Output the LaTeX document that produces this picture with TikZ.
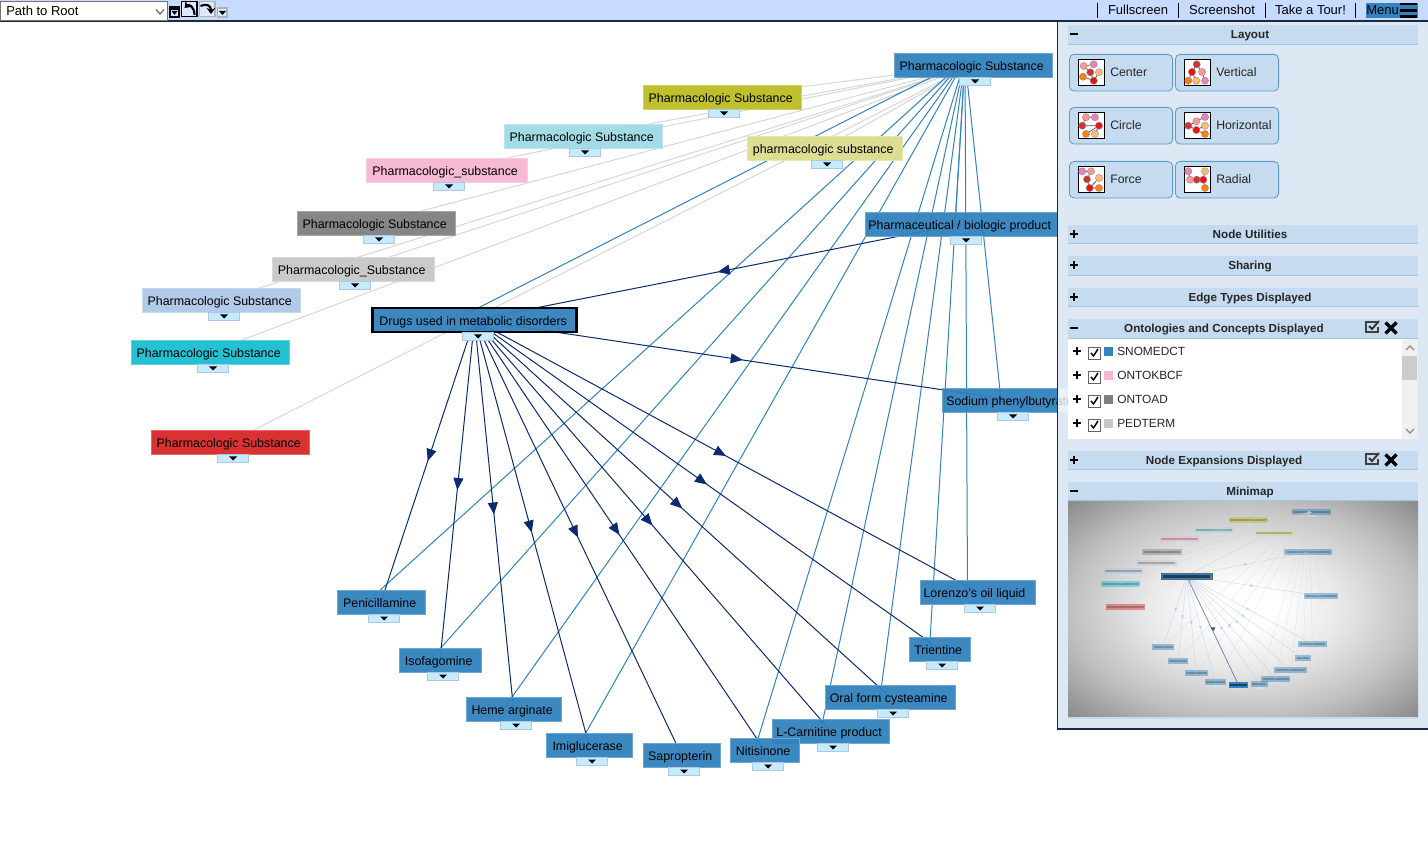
\documentclass[tikz,border=0pt]{standalone}
\usepackage{fontspec}
\setmainfont{Liberation Sans}
\usetikzlibrary{arrows.meta,backgrounds,decorations.markings}

\definecolor{snomed}{HTML}{3182BD}
\definecolor{navyedge}{HTML}{0B2A6F}
\definecolor{grayedge}{HTML}{D6D6D6}
\definecolor{oliveng}{HTML}{BCBD22}
\definecolor{palecyan}{HTML}{9EDAE5}
\definecolor{palepink}{HTML}{F7B6D2}
\definecolor{midgray}{HTML}{7F7F7F}
\definecolor{silver}{HTML}{C7C7C7}
\definecolor{periwink}{HTML}{AEC7E8}
\definecolor{tealbox}{HTML}{17BECF}
\definecolor{redbox}{HTML}{D62728}
\definecolor{paleyellow}{HTML}{DBDB8D}
\definecolor{barblue}{HTML}{C6DBFF}
\definecolor{panelblue}{HTML}{DEE8F4}
\definecolor{headblue}{HTML}{C6DBEF}
\definecolor{headline}{HTML}{9ECAE1}
\definecolor{expblue}{HTML}{C6EBFD}
\definecolor{darkline}{HTML}{1B2A44}
\definecolor{pa}{HTML}{F07FBF}
\definecolor{sa}{HTML}{FF9896}
\definecolor{br}{HTML}{C93434}
\definecolor{pe}{HTML}{FFBB78}
\definecolor{or}{HTML}{FF7F0E}
\definecolor{re}{HTML}{F01010}

\pgfdeclareradialshading{vignette}{\pgfpoint{0bp}{0bp}}{color(0bp)=(white); color(5bp)=(white); color(14bp)=(black!9); color(25bp)=(black!25); color(35.4bp)=(black!46); color(50bp)=(black!46)}

\tikzset{
  concept/.style={inner sep=0pt,minimum height=18pt,text height=9.5pt,text depth=1.5pt,font=\fontsize{9.3pt}{11pt}\selectfont,fill opacity=.95,text opacity=1,line width=.5pt},
  expander/.style={draw=periwink,fill=expblue,inner sep=0pt,minimum width=23.25pt,minimum height=6.2pt,line width=.5pt},
  subedge/.style={draw=snomed,line width=.75pt},
  grayline/.style={draw=grayedge,line width=.75pt},
  drugedge/.style={draw=navyedge,line width=.75pt,postaction={decorate},
    decoration={markings,mark=at position .5 with {\arrow{Triangle[length=9pt,width=7.5pt]}}}},
  miniedge/.style={draw=periwink,opacity=.7,line width=.25pt,postaction={decorate},
    decoration={markings,mark=at position .5 with {\arrow{Triangle[length=2.4pt,width=2pt]}}}},
  headbar/.style={fill=headblue,inner sep=0pt,minimum width=262.5pt},
  headtitle/.style={font=\fontsize{8.75pt}{11pt}\selectfont\bfseries,text=black!85,inner sep=0pt,text height=7pt,text depth=2pt},
  layoutbtn/.style={draw=snomed!80!white,fill=headblue,rounded corners=3.5pt,inner sep=0pt,minimum width=77.4pt,minimum height=27.5pt,line width=.6pt},
  btntext/.style={anchor=west,font=\fontsize{9.2pt}{11pt}\selectfont,text=black!85,inner sep=0pt,text height=7pt,text depth=2pt},
  bartext/.style={font=\fontsize{9.75pt}{11pt}\selectfont,inner sep=0pt,text height=7.5pt,text depth=2pt},
  rowtext/.style={anchor=west,font=\fontsize{8.9pt}{11pt}\selectfont,text=black!85,inner sep=0pt,text height=7pt,text depth=2pt}
}

% x, y of the icon corner, then colour/x/y of its six circles
\newcommand{\layouticon}[3]{
  \begin{scope}[shift={(#1,#2)}]
    \draw[black,line width=.75pt,fill=white] (0,0) rectangle (26,26);
    \foreach \c/\i/\j in {#3} \coordinate (\c) at (\i,\j);
    \draw[black!70,line width=.5pt] (sa) -- (br) -- (re) -- (or) (re) -- (pe) (sa) -- (pa);
    \foreach \c/\i/\j in {#3} \fill[fill=\c,draw=black!45,line width=.3pt] (\i,\j) circle (3.6);
  \end{scope}
}
\newcommand{\plusicon}[2]{\draw[black,line width=1.5pt] (#1-4,#2) -- (#1+4,#2) (#1,#2-4) -- (#1,#2+4);}
\newcommand{\minusicon}[2]{\draw[black,line width=1.5pt] (#1-4,#2) -- (#1+4,#2);}
\newcommand{\checkicon}[2]{
  \draw[black!75,line width=1pt] (#1+5,#2-5) -- (#1-6,#2-5) -- (#1-6,#2+5) -- (#1+6,#2+5) -- (#1+6,#2);
  \draw[black!80,line width=1.4pt] (#1-3,#2-1) -- (#1,#2+2) -- (#1+7,#2-6);
}
\newcommand{\crossicon}[2]{\draw[black,line width=2.6pt] (#1-5.5,#2-5.5) -- (#1+5.5,#2+5.5) (#1+5.5,#2-5.5) -- (#1-5.5,#2+5.5);}

\def\conceptlist{
  psub/973/65/158/snomed/975/Pharmacologic Substance,
  polive/722/97/158/oliveng/724/Pharmacologic Substance,
  pcyan/583/136/158/palecyan/585/Pharmacologic Substance,
  ppink/446.5/170/161/palepink/449/Pharmacologic\_substance,
  pgray/376/223/158/midgray/379/Pharmacologic Substance,
  psilver/353/269/162/silver/355/Pharmacologic\_Substance,
  pperi/221/300/158/periwink/224/Pharmacologic Substance,
  pteal/210/352/158/tealbox/213/Pharmacologic Substance,
  pred/230/442/158/redbox/233/Pharmacologic Substance,
  pyellow/824.5/148/155/paleyellow/827/pharmacologic substance,
  pharma/961/224/192/snomed/966/{Pharmaceutical / biologic product},
  sodium/1011/400/138/snomed/1013/Sodium phenylbutyrate,
  peni/381/602/88/snomed/384/Penicillamine,
  isof/440/660/82/snomed/443/Isofagomine,
  heme/513.5/709/95/snomed/516/Heme arginate,
  imig/589/745/86/snomed/592/Imiglucerase,
  sapr/681.5/755/77/snomed/684/Sapropterin,
  lcar/830.5/731/117/snomed/833/L-Carnitine product,
  niti/764.5/750/69/snomed/768/Nitisinone,
  oral/890/697/130/snomed/893/Oral form cysteamine,
  trie/939.5/649/61/snomed/942/Trientine,
  lore/977.5/592/115/snomed/980/Lorenzo's oil liquid
}
\def\subtargets{drugs/-20,peni/-14,isof/-10,heme/-10,imig/-10,niti/-10,lcar/-10,oral/-10,trie/-10,lore/-10,sodium/-10,pharma/-6}
\def\graytargets{polive,pcyan,ppink,pgray,psilver,pperi,pteal,pred,pyellow}
\def\drugtargets{peni,isof,heme,imig,sapr,niti,lcar,oral,trie,lore,sodium}

\begin{document}
\begin{tikzpicture}[x=.75pt,y=-.75pt]
\useasboundingbox (0,0) rectangle (1428,855);

% the graph
\foreach \nm/\cx/\cy/\bw/\col/\ex/\txt in \conceptlist {
  \node[concept,fill=\col,draw=\col!70!white,minimum width=\bw*.75pt] (\nm) at (\cx,\cy) {\txt\hspace*{2pt}};
  \node[expander] (\nm x) at (\ex,\cy+16.2) {};
  \fill (\ex-4,\cy+14.5) -- (\ex+4,\cy+14.5) -- (\ex,\cy+18.5) -- cycle;
}
\node[concept,fill=snomed,draw=black,line width=1.6pt,minimum width=153pt,minimum height=18.5pt] (drugs) at (474.5,320) {Drugs used in metabolic disorders\hspace*{2pt}};
\node[expander] (drugsx) at (478,336) {};
\fill (474,334.5) -- (482,334.5) -- (478,338.5) -- cycle;

\begin{scope}[on background layer]
  \coordinate (hubsub) at ([shift={(-8,-5)}]psub.center);
  \foreach \n in \graytargets \draw[grayline] (psub.center) -- (\n.center);
  \foreach \n/\s in \subtargets \draw[subedge] (hubsub) -- ([shift={(\s,0)}]\n.center);
  \foreach \n in \drugtargets \draw[drugedge] (drugs.center) -- (\n.center);
  \draw[drugedge] (pharma.center) -- (drugs.center);
\end{scope}

% menu panel
\fill[panelblue] (1057.5,21) rectangle (1428,729);
\draw[darkline,line width=.9pt] (1057.5,21) -- (1057.5,729) -- (1428,729);
\fill[panelblue!60!white] (1058,388) rectangle (1080,412);
\begin{scope}
  \clip (1058,388) rectangle (1080,412);
  \node[concept,opacity=.18,text opacity=.18] (sodiumfaint) at (1011,400) {Sodium phenylbutyrate\hspace*{2pt}};
\end{scope}

\foreach \nm/\yy/\tx/\txt in {hlayout/34.5/1250/Layout,hutil/234/1250/Node Utilities,hshare/265.5/1250/Sharing,hedge/297/1250/Edge Types Displayed,honto/328.5/1224/Ontologies and Concepts Displayed,hexpand/460/1224/Node Expansions Displayed,hmini/491/1250/Minimap} {
  \node[headbar,minimum height=14pt] (\nm) at (1243,\yy) {};
  \draw[headline,line width=.6pt] (\nm.south west) -- (\nm.south east);
  \node[headtitle] (\nm t) at (\tx,\yy+1) {\txt};
}
\minusicon{1074}{34.5}
\plusicon{1074}{234}
\plusicon{1074}{265}
\plusicon{1074}{297}
\minusicon{1074}{328}
\plusicon{1074}{460}
\minusicon{1074}{491}
\checkicon{1372}{327}
\crossicon{1391}{328}
\checkicon{1372}{459}
\crossicon{1391}{460}

\foreach \nm/\xx/\yy/\txt in {bcenter/1069/54/Center,bvert/1175/54/Vertical,bcircle/1069/107/Circle,bhoriz/1175/107/Horizontal,bforce/1069/161/Force,bradial/1175/161/Radial} {
  \node[layoutbtn,anchor=north west] (\nm) at (\xx,\yy) {};
  \node[btntext] (\nm t) at (\xx+41,\yy+19.5) {\txt};
}
\layouticon{1078}{60}{pa/15.7/4.3,sa/5.7/6,br/12.3/12.3,pe/21/12.3,or/5/16.7,re/15.7/20.7}
\layouticon{1184}{60}{br/12.7/4.3,re/8/12,sa/18/12,or/4.3/20.7,pe/12.3/20.7,pa/21/20.7}
\layouticon{1078}{113}{sa/8/4.3,pa/17/4.3,br/4.3/12.7,re/21/12.7,or/8/21,pe/17/21}
\layouticon{1184}{113}{br/4.3/12.7,sa/12.3/8.3,re/12.3/17,pa/21/4,pe/21/12.7,or/21/21}
\layouticon{1078}{167}{pa/4.3/4.3,sa/13/4.3,br/9/12.3,pe/21/11,re/11.7/21,or/21/21}
\layouticon{1184}{167}{pa/4.3/4.3,pe/21/4.3,sa/6/12.7,br/12.7/12.7,re/19.3/12.7,or/21/21}

% ontology list
\fill[white] (1068,339) rectangle (1418,439);
\fill[black!6] (1402,339) rectangle (1418,439);
\fill[black!20] (1402,356) rectangle (1417,380);
\draw[black!45,line width=1pt] (1406,350) -- (1410,346) -- (1414,350) (1406,429) -- (1410,433) -- (1414,429);
\foreach \nm/\yy/\col/\txt in {snomedct/352/snomed/SNOMEDCT,ontokbcf/376/palepink/ONTOKBCF,ontoad/400/midgray/ONTOAD,pedterm/424/silver/PEDTERM} {
  \plusicon{1077}{\yy-1}
  \draw[black!60,fill=white,line width=.6pt] (1088,\yy-5) rectangle (1100,\yy+7);
  \draw[black,line width=1.1pt] (1091,\yy+1) -- (1093.5,\yy+4) -- (1098,\yy-3);
  \fill[\col] (1104,\yy-4.5) rectangle (1113,\yy+4.5);
  \node[rowtext] (\nm) at (1117,\yy+.5) {\txt};
}

% minimap
\fill[headblue] (1068,716) rectangle (1418,719);
\shade[shading=vignette] (1068,501) rectangle (1418,716);
\begin{scope}[shift={(1068,496)},scale=.25]
  \foreach \nm/\cx/\cy/\bw/\col/\ex/\txt in \conceptlist {
    \coordinate (m\nm) at (\cx,\cy);
    \fill[\col,opacity=.45] (\cx-\bw/2,\cy-12) rectangle (\cx+\bw/2,\cy+12);
    \fill[black,opacity=.22] (\cx-\bw/2+6,\cy-4) rectangle (\cx+\bw/2-6,\cy+4);
    \fill[expblue,opacity=.5] (\ex-15,\cy+12) rectangle (\ex+15,\cy+20);
  }
  \coordinate (mdrugs) at (474.5,320);
  \coordinate (mhub) at (965,60);
  \foreach \n in {polive,pcyan,ppink,pgray,psilver,pperi,pteal,pred,pyellow}
    \draw[white!80!black,opacity=.5,line width=.25pt] (mpsub) -- (m\n);
  \foreach \n in {drugs,peni,isof,heme,imig,niti,lcar,oral,trie,lore,sodium,pharma}
    \draw[white!80!black,opacity=.5,line width=.25pt] (mhub) -- (m\n);
  \foreach \n in {peni,isof,heme,imig,niti,lcar,oral,trie,lore,sodium,pharma}
    \draw[miniedge] (mdrugs) -- (m\n);
  \draw[navyedge,opacity=.6,line width=.5pt] (mdrugs) -- (msapr);
  \fill[navyedge,opacity=.8] (570,525) -- (590,525) -- (582,540) -- cycle;
  \fill[snomed] (372,308) rectangle (577,333);
  \fill[black,opacity=.5] (378,315) rectangle (568,326);
  \draw[black!60,line width=.4pt] (372,308) rectangle (577,333);
  \fill[snomed] (643,743) rectangle (720,767);
  \fill[black,opacity=.5] (648,750) rectangle (715,761);
\end{scope}

% top bar
\fill[barblue] (0,0) rectangle (1428,21);
\draw[darkline,line width=.9pt] (0,21) -- (1428,21);
\node[draw=black!55,fill=white,line width=.7pt,minimum width=125pt,minimum height=14.6pt,inner sep=0pt,anchor=north west] (pathbox) at (.5,1) {};
\node[bartext,anchor=west] (pathtext) at (6,12) {Path to Root};
\draw[black!55,line width=1pt] (156,9.5) -- (160,14) -- (164,9.5);
\draw[black,fill=barblue!70!white,line width=.8pt] (170,7) rectangle (179,17);
\draw[black,line width=.9pt] (171,9) -- (178,9);
\fill (171.5,11) -- (177.5,11) -- (174.5,15) -- cycle;
\draw[black,fill=barblue!60!white,line width=.8pt] (181.5,1.5) rectangle (197,16.5);
\draw[black,line width=1.6pt,-{Stealth[length=4.5pt,width=6.5pt]}] (194.5,15) .. controls (194.5,7) and (189,3.5) .. (184.5,8);
\draw[black!30,fill=barblue!60!white,line width=.8pt] (199.5,1.5) rectangle (215,16.5);
\draw[black,line width=1.6pt,-{Stealth[length=4.5pt,width=6.5pt]}] (200.5,6) .. controls (206,3.5) and (211,5) .. (211,14);
\draw[black!30,fill=barblue!60!white,line width=.8pt] (217.5,8) rectangle (227,17);
\fill (219,11) -- (226,11) -- (222.5,15) -- cycle;
\foreach \xx in {1097.5,1178.5,1265.5,1355.5} \draw[black,line width=.8pt] (\xx,3) -- (\xx,18);
\node[bartext] (fullscreen) at (1138,10.5) {Fullscreen};
\node[bartext] (screenshot) at (1222,10.5) {Screenshot};
\node[bartext] (taketour) at (1310.5,10.5) {Take a Tour!};
\fill[snomed] (1366,3) rectangle (1418,18);
\node[bartext,anchor=west] (menu) at (1366,10.5) {Menu};
\draw[black,line width=1.6pt] (1400,4) -- (1417,4) (1400,10.5) -- (1417,10.5) (1400,16.5) -- (1417,16.5);
\end{tikzpicture}
\end{document}
